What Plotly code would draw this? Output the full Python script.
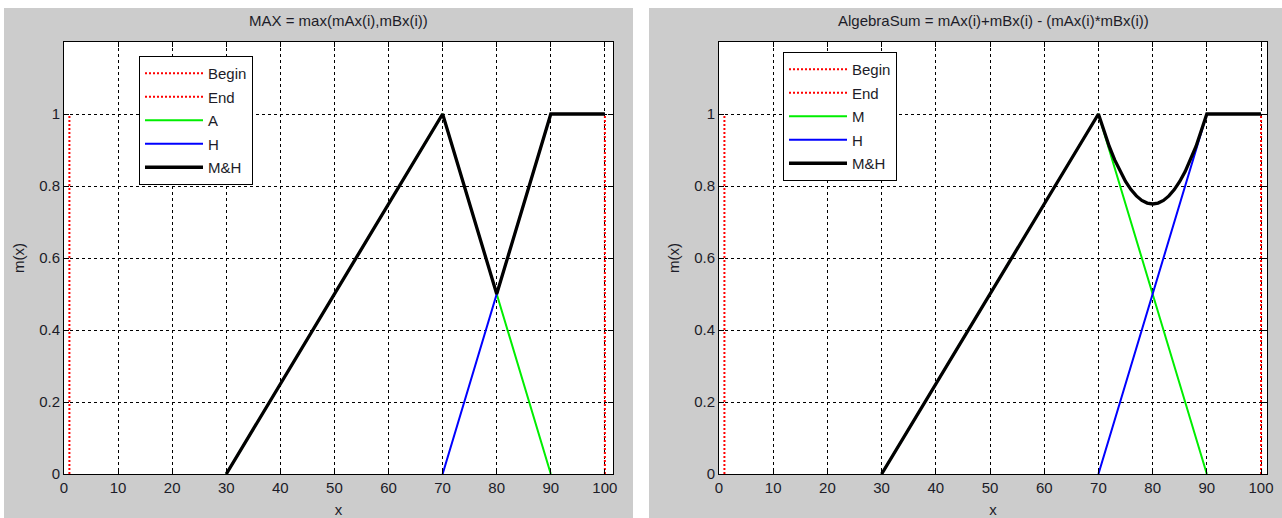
import plotly.graph_objects as go

# ---------------- data ----------------
begin_x = [1, 1]
begin_y = [0, 1]
end_x = [100, 100]
end_y = [0, 1]

m_x = [30, 40, 50, 60, 70, 80, 90]
m_y = [0.0, 0.25, 0.5, 0.75, 1.0, 0.5, 0.0]

h_x = [70, 80, 90, 100]
h_y = [0.0, 0.5, 1.0, 1.0]

max_x = [30, 40, 50, 60, 70, 80, 90, 100]
max_y = [0.0, 0.25, 0.5, 0.75, 1.0, 0.5, 1.0, 1.0]

sum_x = [30, 40, 50, 60, 70, 71, 72, 73, 74, 75, 76, 77, 78, 79, 80,
         81, 82, 83, 84, 85, 86, 87, 88, 89, 90, 100]
sum_y = [0.0, 0.25, 0.5, 0.75, 1.0, 0.955, 0.91, 0.8725, 0.84, 0.8125, 0.79,
         0.7725, 0.76, 0.7525, 0.75, 0.7525, 0.76, 0.7725, 0.79, 0.8125, 0.84,
         0.8725, 0.91, 0.955, 1.0, 1.0]

x_ticks = [0, 10, 20, 30, 40, 50, 60, 70, 80, 90, 100]
y_ticks = [0, 0.2, 0.4, 0.6, 0.8, 1]
y_tick_text = ["0", "0.2", "0.4", "0.6", "0.8", "1"]

titles = ["MAX = max(mAx(i),mBx(i))",
          "AlgebraSum = mAx(i)+mBx(i) - (mAx(i)*mBx(i))"]
legend_names = [["Begin", "End", "A", "H", "M&H"],
                ["Begin", "End", "M", "H", "M&H"]]

# ---------------- layout geometry ----------------
W, H = 1282, 518
FONT = "Liberation Sans, Arial, sans-serif"
TXT = "#1c1c28"
FS = 15

def px_x(p):
    return p / W

def px_y(p):
    return 1 - p / H

dom_x = [[px_x(64), px_x(613)], [px_x(719), px_x(1267)]]
dom_y = [px_y(474), px_y(42)]
x_ranges = [[0, 101.5], [0, 101.1]]

fig = go.Figure()

combined = [(max_x, max_y), (sum_x, sum_y)]
for k in range(2):
    xa = "x" if k == 0 else "x2"
    ya = "y" if k == 0 else "y2"
    lg = "legend" if k == 0 else "legend2"
    names = legend_names[k]
    specs = [
        (begin_x, begin_y, names[0], dict(color="red", width=2, dash="2px,2px")),
        (end_x, end_y, names[1], dict(color="red", width=2, dash="2px,2px")),
        (m_x, m_y, names[2], dict(color="#00ee00", width=2)),
        (h_x, h_y, names[3], dict(color="#0000ff", width=2)),
        (combined[k][0], combined[k][1], names[4], dict(color="black", width=3.3)),
    ]
    for i, (xs, ys, nm, ln) in enumerate(specs):
        fig.add_trace(go.Scatter(
            x=xs, y=ys, mode="lines", name=nm, line=ln,
            xaxis=xa, yaxis=ya, legend=lg, legendgroup=f"g{k}{i}",
            showlegend=True))

axis_common = dict(
    showline=True, linecolor="black", linewidth=1, mirror="allticks",
    ticks="inside", ticklen=5, tickcolor="black",
    showgrid=True, gridcolor="black", gridwidth=1, griddash="3px,3px",
    zeroline=False, tickfont=dict(family=FONT, size=FS, color=TXT),
    fixedrange=True, automargin=False,
)

fig.update_layout(
    template="none",
    width=W, height=H,
    margin=dict(l=0, r=0, t=0, b=0, autoexpand=False),
    paper_bgcolor="white", plot_bgcolor="rgba(0,0,0,0)",
    font=dict(family=FONT, size=FS, color=TXT),
    showlegend=True,
)

for k in range(2):
    sx = "" if k == 0 else "2"
    fig.update_layout(**{
        f"xaxis{sx}": dict(axis_common, domain=dom_x[k], range=x_ranges[k],
                           tickvals=x_ticks, anchor=f"y{sx}",
                           title=dict(text="x", standoff=10,
                                      font=dict(family=FONT, size=FS, color=TXT))),
        f"yaxis{sx}": dict(axis_common, domain=dom_y, range=[0, 1.2],
                           tickvals=y_ticks, ticktext=y_tick_text, anchor=f"x{sx}",
                           title=dict(text="m(x)", standoff=10,
                                      font=dict(family=FONT, size=FS, color=TXT))),
    })

legend_common = dict(
    bgcolor="white", bordercolor="black", borderwidth=1,
    font=dict(family=FONT, size=FS, color=TXT),
    xanchor="left", yanchor="top", traceorder="grouped", tracegroupgap=1,
    itemwidth=58,
)
fig.update_layout(
    legend=dict(legend_common, x=px_x(139), y=px_y(56)),
    legend2=dict(legend_common, x=px_x(783), y=px_y(52)),
)

# gray panels and white plot areas
shapes = []
panels = [(4, 633), (649, 1282)]
plots = [(64, 613), (719, 1267)]
for (a, b), (c, d) in zip(panels, plots):
    shapes.append(dict(type="rect", xref="paper", yref="paper", layer="below",
                       x0=px_x(a), x1=px_x(b), y0=0, y1=px_y(8),
                       fillcolor="#cccccc", line=dict(width=0)))
    shapes.append(dict(type="rect", xref="paper", yref="paper", layer="below",
                       x0=px_x(c), x1=px_x(d), y0=px_y(474), y1=px_y(42),
                       fillcolor="white", line=dict(width=0)))
fig.update_layout(shapes=shapes)

for k in range(2):
    fig.add_annotation(
        text=titles[k], xref="paper", yref="paper",
        x=(dom_x[k][0] + dom_x[k][1]) / 2, y=px_y(20),
        xanchor="center", yanchor="middle", showarrow=False,
        font=dict(family=FONT, size=FS, color=TXT))

fig.write_html(
    "out.html",
    post_script="document.body.style.margin='0';document.body.style.overflow='hidden';",
    config={"displayModeBar": False},
)
